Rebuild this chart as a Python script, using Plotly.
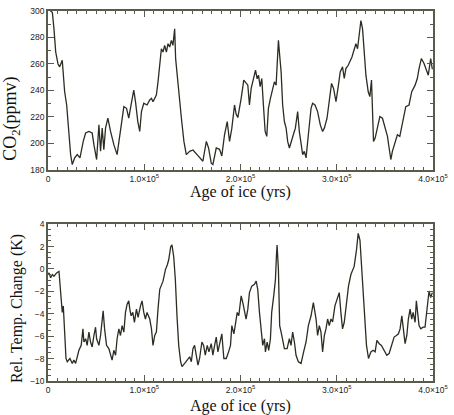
import plotly.graph_objects as go

# ---- data (ages in thousands of years) ----
co2_age_kyr = [
    2.5, 4.5, 6.2, 8.0, 10.4, 12.1, 14.8, 15.9, 17.3, 19.4,
    21.8, 23.5, 25.2, 27.7, 30.4, 33.2, 36.6, 39.1, 42.5, 45.9,
    47.7, 50.5, 52.9, 54.6, 56.3, 58.0, 59.8, 62.2, 65.0, 68.4,
    71.8, 74.6, 77.0, 78.8, 81.6, 83.9, 86.3, 89.1, 90.9, 93.3,
    95.3, 97.1, 99.5, 102.9, 105.7, 107.5, 109.1, 110.9, 112.6, 114.3,
    116.1, 117.8, 119.5, 121.2, 123.0, 124.7, 126.4, 128.2, 129.8, 131.6,
    132.6, 135.0, 136.8, 138.6, 141.2, 143.7, 147.2, 150.6, 155.8, 160.9,
    164.5, 166.8, 169.6, 171.3, 174.8, 178.2, 180.6, 183.4, 186.2, 188.6,
    191.0, 193.8, 195.5, 197.2, 200.7, 203.4, 207.6, 209.3, 211.1, 213.8,
    215.6, 217.3, 218.7, 220.4, 222.1, 223.8, 225.6, 227.3, 229.0, 231.1,
    233.5, 235.2, 237.0, 238.0, 239.4, 240.4, 242.2, 243.8, 245.6, 247.4,
    249.0, 250.8, 252.5, 254.9, 257.0, 259.4, 261.1, 262.9, 264.6, 266.3,
    268.1, 270.5, 273.3, 274.9, 277.4, 280.1, 282.9, 285.3, 287.1, 289.9,
    292.2, 294.6, 296.7, 299.2, 301.6, 303.6, 306.0, 307.8, 309.5, 311.9,
    315.8, 318.1, 319.9, 321.6, 323.3, 325.1, 326.8, 328.5, 330.3, 332.7,
    334.4, 336.1, 337.1, 338.2, 339.9, 342.3, 344.8, 347.5, 350.3, 352.7,
    354.4, 356.2, 357.8, 360.6, 363.0, 365.5, 368.2, 371.7, 375.1, 377.9,
    381.4, 383.7, 385.5, 387.9, 390.7, 393.1, 395.1, 397.6, 399.3,
]
co2_ppmv = [
    300, 299, 286.5, 269, 260, 257.8, 262.8, 251.5, 239, 229,
    206.5, 191.5, 184, 189, 191.5, 189, 201.5, 207.8, 209, 207.8,
    199, 187.8, 214, 194, 211.5, 195.3, 211.5, 219, 209, 199,
    191.5, 206.5, 221.5, 227.8, 226.5, 219, 229, 240.3, 231.5, 216.5,
    209, 224, 230.3, 229, 232.8, 234, 231.5, 234, 236.5, 246.5,
    259, 271.5, 269, 274, 269, 275.3, 272.8, 277.8, 274, 286.5,
    264, 244, 231.5, 219, 201.5, 191.5, 194, 195, 190.7, 186.5,
    201.5, 196.5, 185, 184, 196.5, 195.5, 190.5, 206.5, 216.5, 201.5,
    211.5, 229, 222, 219.5, 234, 247.8, 244, 229, 241.5, 251.5,
    255.3, 248.8, 251.5, 242.8, 249, 229, 209, 205.3, 226.5, 234,
    241.5, 246.5, 244, 261.5, 277.8, 269, 254, 229, 216.5, 211.5,
    201.5, 196.5, 201.5, 206.5, 211.5, 224, 209, 201.5, 191.5, 194,
    189, 206.5, 226.5, 230.3, 229, 224, 214, 209, 211.5, 219,
    231.5, 245.3, 241.5, 231.5, 243.3, 254, 257.8, 249, 256.5, 259,
    265.3, 271.5, 275.3, 271.5, 284, 292.8, 286.5, 269, 251.5, 239,
    235.3, 247.8, 229, 201.5, 204, 211.5, 220.3, 219, 211.5, 205.3,
    196.5, 187.8, 194, 201.5, 206.5, 205.3, 216.5, 227.8, 229, 239,
    244, 249, 256.5, 264, 260.3, 255, 251.5, 264, 256,
]

temp_age_kyr = [
    0.3, 1.0, 2.8, 4.5, 6.2, 9.0, 11.4, 12.4, 13.8, 14.8,
    15.9, 17.3, 18.7, 20.0, 22.8, 25.2, 26.9, 28.7, 30.4, 32.1,
    34.5, 36.3, 37.3, 39.1, 40.7, 42.5, 44.2, 45.9, 47.7, 49.4,
    50.5, 52.9, 54.6, 56.3, 57.3, 58.8, 60.8, 63.2, 65.0, 66.6,
    68.4, 70.2, 71.8, 73.6, 75.3, 77.0, 78.8, 80.5, 82.2, 83.9,
    85.0, 86.3, 88.1, 89.8, 91.9, 93.6, 96.1, 97.7, 99.5, 101.2,
    102.9, 105.7, 107.5, 109.1, 110.9, 112.6, 114.3, 116.1, 119.5, 122.0,
    124.0, 125.4, 127.5, 128.8, 130.6, 132.3, 134.0, 135.8, 137.8, 139.2,
    142.0, 144.8, 147.2, 148.9, 150.6, 152.3, 154.1, 155.8, 157.5, 159.9,
    161.7, 163.4, 165.5, 167.2, 169.6, 171.3, 173.1, 174.8, 176.5, 178.2,
    180.6, 182.7, 185.2, 187.6, 189.6, 191.0, 193.1, 194.5, 196.6, 198.2,
    200.7, 202.4, 205.8, 207.6, 209.3, 211.7, 214.5, 216.3, 217.9, 219.7,
    221.5, 223.1, 224.9, 225.9, 227.7, 229.3, 231.1, 232.4, 234.5, 236.3,
    237.3, 238.0, 239.4, 240.7, 242.2, 243.8, 245.6, 248.4, 250.8, 252.5,
    254.2, 256.0, 257.7, 260.1, 262.9, 265.6, 268.1, 270.5, 273.3, 275.7,
    276.7, 278.5, 280.1, 281.9, 283.6, 285.3, 287.1, 288.8, 290.5, 292.2,
    294.0, 295.7, 298.1, 300.8, 302.6, 304.3, 306.0, 307.8, 309.5, 312.2,
    314.7, 318.1, 320.5, 322.3, 324.1, 325.7, 327.5, 329.3, 330.9, 333.0,
    335.5, 337.8, 339.9, 341.7, 344.1, 346.4, 349.2, 352.0, 354.4, 357.2,
    359.6, 362.0, 364.1, 365.8, 367.6, 369.2, 371.0, 372.8, 374.4, 376.2,
    377.9, 379.3, 381.4, 382.7, 384.2, 385.5, 387.3, 389.6, 391.7, 393.1,
    394.1, 395.9, 397.6, 399.3,
]
temp_change_K = [
    -0.50, -0.35, -0.79, -0.50, -0.65, -0.35, -0.21, -1.53, -2.41, -3.88,
    -3.30, -5.64, -7.99, -8.28, -7.99, -8.43, -8.14, -8.43, -7.70, -7.26,
    -6.82, -5.35, -6.52, -6.23, -6.82, -5.64, -6.52, -6.96, -5.94, -5.20,
    -6.23, -6.82, -5.94, -4.76, -3.74, -5.35, -6.82, -7.11, -7.70, -8.14,
    -7.26, -7.70, -6.23, -5.35, -5.94, -5.06, -5.64, -3.88, -3.15, -2.85,
    -3.59, -4.18, -3.88, -4.76, -3.59, -4.32, -3.30, -2.85, -3.88, -4.47,
    -3.88, -4.47, -5.35, -6.82, -5.94, -5.64, -3.59, -1.82, -1.09, -0.06,
    0.38, 0.82, 1.99, 2.14, 1.11, -0.94, -4.18, -6.82, -8.28, -8.72,
    -8.43, -8.14, -7.84, -8.28, -7.11, -6.82, -7.70, -8.58, -7.99, -6.52,
    -6.82, -7.70, -6.82, -7.40, -6.67, -7.70, -6.82, -6.08, -7.40, -6.82,
    -5.79, -7.99, -7.99, -7.40, -6.82, -5.06, -5.79, -5.06, -3.88, -4.18,
    -2.41, -3.00, -4.47, -3.59, -2.11, -1.53, -1.38, -1.09, -1.82, -3.88,
    -5.35, -6.82, -6.23, -7.40, -6.52, -7.26, -6.23, -3.88, -2.41, -0.94,
    1.11, 2.14, -0.06, -5.06, -5.64, -6.52, -7.11, -7.11, -6.23, -6.82,
    -5.64, -6.52, -7.70, -8.28, -8.43, -7.40, -6.52, -5.06, -4.18, -3.00,
    -3.59, -4.47, -5.94, -5.06, -5.64, -7.40, -5.94, -5.35, -4.47, -5.06,
    -4.47, -4.73, -3.30, -2.56, -2.11, -3.88, -5.35, -4.76, -3.30, -1.53,
    -0.50, 0.23, 1.70, 3.17, 2.58, 0.53, -1.53, -4.47, -6.82, -7.99,
    -7.40, -7.26, -7.40, -6.38, -6.67, -6.82, -7.26, -7.70, -7.55, -6.82,
    -6.08, -5.94, -5.79, -5.35, -4.18, -5.35, -6.67, -5.94, -4.47, -3.59,
    -4.47, -3.88, -4.76, -2.85, -3.88, -5.06, -5.35, -5.20, -5.20, -3.88,
    -3.00, -1.97, -2.56, -2.11,
]

x_tick_vals = [0, 100000, 200000, 300000, 400000]
x_tick_text = ["0", "1.0×10<sup>5</sup>", "2.0×10<sup>5</sup>",
               "3.0×10<sup>5</sup>", "4.0×10<sup>5</sup>"]
co2_ticks = [180, 200, 220, 240, 260, 280, 300]
temp_ticks = [-10, -8, -6, -4, -2, 0, 2, 4]

x_title = "Age of ice (yrs)"
co2_title = "CO<sub>2</sub>(ppmv)"
temp_title = "Rel. Temp. Change (K)"

# ---- styling ----
LINE = "#2c2c22"
FRAME = "#5a5a4c"
TICKFONT = dict(family="Liberation Sans", size=8.5, color="#222222")
TITLEFONT = dict(family="Liberation Serif", size=16, color="#111111")
CO2FONT = dict(family="Liberation Serif", size=18, color="#111111")

fig = go.Figure()
fig.add_trace(go.Scatter(x=[a * 1000 for a in co2_age_kyr], y=co2_ppmv,
                         mode="lines", line=dict(color=LINE, width=1.3),
                         xaxis="x", yaxis="y", showlegend=False))
fig.add_trace(go.Scatter(x=[a * 1000 for a in temp_age_kyr], y=temp_change_K,
                         mode="lines", line=dict(color=LINE, width=1.3),
                         xaxis="x2", yaxis="y2", showlegend=False))

common_axis = dict(showgrid=False, zeroline=False, showline=True,
                   linecolor=FRAME, linewidth=1.5, mirror="allticks",
                   ticks="inside", ticklen=6, tickcolor=FRAME, tickwidth=1,
                   tickfont=TICKFONT)

xcommon = dict(common_axis, range=[0, 400000], tickmode="array",
               tickvals=x_tick_vals, ticktext=x_tick_text,
               minor=dict(dtick=10000, ticks="inside", ticklen=3,
                          tickcolor=FRAME))

fig.update_layout(
    width=454, height=415,
    margin=dict(l=48, r=20, t=6, b=34),
    paper_bgcolor="white", plot_bgcolor="white",
    xaxis=dict(xcommon, anchor="y", domain=[0, 1]),
    yaxis=dict(common_axis, anchor="x", domain=[0.5707, 1], range=[180, 300],
               tickmode="array", tickvals=co2_ticks,
               minor=dict(dtick=10, ticks="inside", ticklen=3, tickcolor=FRAME)),
    xaxis2=dict(xcommon, anchor="y2", domain=[0, 1]),
    yaxis2=dict(common_axis, anchor="x2", domain=[0, 0.424], range=[-10, 4],
                tickmode="array", tickvals=temp_ticks,
                minor=dict(dtick=0.5, ticks="inside", ticklen=3, tickcolor=FRAME)),
    annotations=[
        dict(text=x_title, xref="paper", yref="paper", x=0.5, y=0.512,
             showarrow=False, font=TITLEFONT, xanchor="center", yanchor="middle"),
        dict(text=x_title, xref="paper", yref="paper", x=0.5, y=-0.067,
             showarrow=False, font=TITLEFONT, xanchor="center", yanchor="middle"),
        dict(text=co2_title, xref="paper", yref="paper", x=-0.095, y=0.71,
             showarrow=False, font=CO2FONT, textangle=-90,
             xanchor="center", yanchor="middle"),
        dict(text=temp_title, xref="paper", yref="paper", x=-0.08, y=0.195,
             showarrow=False, font=TITLEFONT, textangle=-90,
             xanchor="center", yanchor="middle"),
    ],
)

fig.write_html("out.html", config={"displayModeBar": False},
               post_script="document.body.style.margin='0';"
                           "document.body.style.overflow='hidden';")
